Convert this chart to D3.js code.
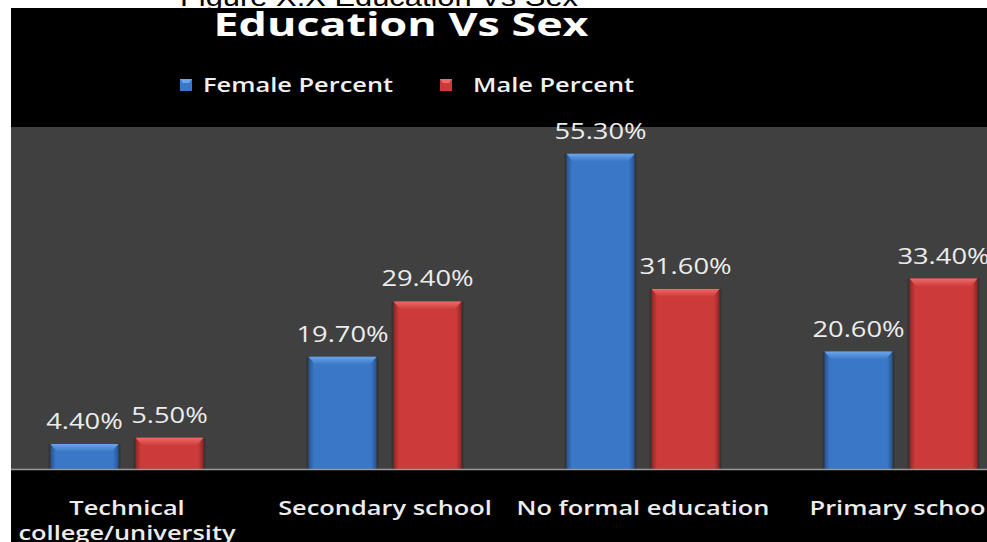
<!DOCTYPE html>
<html>
<head>
<meta charset="utf-8">
<script src="https://cdn.jsdelivr.net/npm/d3@7"></script>
<style>
  html, body { margin: 0; padding: 0; background: #fff; }
  svg { display: block; }
</style>
</head>
<body>
<svg id="chart" width="987" height="542"></svg>
<script>
// Education level by sex, percent of each sex
const categories = ["Technical college/university", "Secondary school", "No formal education", "Primary school"];
const seriesNames = ["Female Percent", "Male Percent"];
const femaleValues = [4.4, 19.7, 55.3, 20.6];
const maleValues = [5.5, 29.4, 31.6, 33.4];
const yTicks = [0, 10, 20, 30, 40, 50, 60];

const svg = d3.select("#chart");
const W = 987, H = 542;
const STRETCH = 1.27; // wide lettering of the chart text

const baseColors = { "Female Percent": "#3a77c6", "Male Percent": "#cc3b3a" };
const lightColors = { "Female Percent": "#6aa6ec", "Male Percent": "#ee6a68" };
const darkColors = { "Female Percent": "#26538f", "Male Percent": "#8e2524" };

// widen text horizontally around its anchor
function widen(sel, k) {
  sel.each(function() {
    const w = this.getComputedTextLength();
    d3.select(this).attr("textLength", w * k).attr("lengthAdjust", "spacingAndGlyphs");
  });
}

// caption behind the chart frame
svg.append("text")
  .attr("x", 379).attr("y", 5.5)
  .attr("text-anchor", "middle")
  .attr("font-family", "Liberation Sans, Arial, sans-serif")
  .attr("font-size", 25)
  .attr("fill", "#000")
  .attr("textLength", 398).attr("lengthAdjust", "spacingAndGlyphs")
  .text("Figure X.X Education Vs Sex");

// chart frame
svg.append("rect").attr("x", 11).attr("y", 8).attr("width", W - 11).attr("height", H - 8).attr("fill", "#000");

const plotTop = 127, plotBottom = 469;
svg.append("rect").attr("x", 11).attr("y", plotTop).attr("width", W - 11).attr("height", plotBottom - plotTop).attr("fill", "#404040");

// title
svg.append("text")
  .attr("x", 401).attr("y", 36)
  .attr("text-anchor", "middle")
  .attr("font-family", "Open Sans, sans-serif")
  .attr("font-weight", 700)
  .attr("font-size", 32)
  .attr("fill", "#fff")
  .attr("textLength", 375).attr("lengthAdjust", "spacingAndGlyphs")
  .text("Education Vs Sex");

// scales
const x0 = d3.scaleBand().domain(categories).range([-2, 1030]).paddingInner(105 / 258).paddingOuter(105 / 516);
const x1 = d3.scaleBand().domain(seriesNames).range([0, x0.bandwidth()]).paddingInner(0.2).paddingOuter(0);
const y = d3.scaleLinear().domain([0, d3.max(yTicks)]).range([plotBottom, plotTop]);

// gradients for bar bodies and caps
const defs = svg.append("defs");
seriesNames.forEach((s, i) => {
  const g = defs.append("linearGradient").attr("id", "grad" + i).attr("x1", 0).attr("x2", 1).attr("y1", 0).attr("y2", 0);
  g.append("stop").attr("offset", "0%").attr("stop-color", darkColors[s]);
  g.append("stop").attr("offset", "8%").attr("stop-color", baseColors[s]);
  g.append("stop").attr("offset", "92%").attr("stop-color", baseColors[s]);
  g.append("stop").attr("offset", "100%").attr("stop-color", darkColors[s]);
  const t = defs.append("linearGradient").attr("id", "cap" + i).attr("x1", 0).attr("x2", 0).attr("y1", 0).attr("y2", 1);
  t.append("stop").attr("offset", "0%").attr("stop-color", lightColors[s]);
  t.append("stop").attr("offset", "100%").attr("stop-color", baseColors[s]);
});

const rows = categories.map((c, i) => ({ category: c, values: [femaleValues[i], maleValues[i]] }));

const groups = svg.append("g").selectAll("g").data(rows).join("g")
  .attr("transform", d => `translate(${x0(d.category)},0)`);

const bars = groups.selectAll("g.bar")
  .data(d => d.values.map((v, i) => ({ series: seriesNames[i], idx: i, value: v })))
  .join("g").attr("class", "bar");

// faint shadow to the sides
bars.append("rect")
  .attr("x", d => x1(d.series) - 2)
  .attr("y", d => y(d.value))
  .attr("width", x1.bandwidth() + 4)
  .attr("height", d => plotBottom - y(d.value))
  .attr("fill", "#000").attr("opacity", 0.18);

bars.append("rect")
  .attr("x", d => x1(d.series))
  .attr("y", d => y(d.value))
  .attr("width", x1.bandwidth())
  .attr("height", d => plotBottom - y(d.value))
  .attr("fill", d => `url(#grad${d.idx})`);

// bevelled top cap
bars.append("path")
  .attr("d", d => {
    const bx = x1(d.series), bw = x1.bandwidth(), by = y(d.value), h = 8, inset = 7;
    return `M${bx},${by} L${bx + bw},${by} L${bx + bw - inset},${by + h} L${bx + inset},${by + h} Z`;
  })
  .attr("fill", d => `url(#cap${d.idx})`);

// value labels
bars.append("text")
  .attr("x", d => x1(d.series) + x1.bandwidth() / 2)
  .attr("y", d => y(d.value) - 15)
  .attr("text-anchor", "middle")
  .attr("font-family", "Open Sans, sans-serif")
  .attr("font-size", 21.5)
  .attr("fill", "#ececec")
  .text(d => d.value.toFixed(2) + "%")
  .call(widen, STRETCH);

// axis baseline
svg.append("line").attr("x1", 11).attr("x2", W).attr("y1", plotBottom + 0.5).attr("y2", plotBottom + 0.5)
  .attr("stroke", "#9a9a9a").attr("stroke-width", 1.5);

// category labels through a bottom axis
const xAxis = d3.axisBottom(x0).tickSize(0).tickPadding(0);
const axisG = svg.append("g").attr("transform", `translate(0,${plotBottom})`).call(xAxis);
axisG.select(".domain").remove();
axisG.selectAll(".tick text").remove();
const labelLines = {
  "Technical college/university": ["Technical", "college/university"]
};
axisG.selectAll(".tick").each(function(d) {
  const lines = labelLines[d] || [d];
  lines.forEach((ln, i) => {
    d3.select(this).append("text")
      .attr("x", 0).attr("y", 46 + i * 25)
      .attr("text-anchor", "middle")
      .attr("font-family", "Open Sans, sans-serif")
      .attr("font-weight", 600)
      .attr("font-size", 20)
      .attr("fill", "#ececec")
      .text(ln)
      .call(widen, STRETCH);
  });
});

// legend
const legend = svg.append("g");
const legendItems = [
  { name: "Female Percent", sx: 180, tx: 203 },
  { name: "Male Percent", sx: 440, tx: 473 }
];
legendItems.forEach(d => {
  legend.append("rect").attr("x", d.sx).attr("y", 79).attr("width", 12).attr("height", 12)
    .attr("fill", baseColors[d.name]);
  legend.append("path")
    .attr("d", `M${d.sx},79 L${d.sx + 12},79 L${d.sx + 9},83 L${d.sx + 3},83 Z`)
    .attr("fill", lightColors[d.name]);
  legend.append("text").attr("x", d.tx).attr("y", 92)
    .attr("font-family", "Open Sans, sans-serif")
    .attr("font-weight", 600)
    .attr("font-size", 20)
    .attr("fill", "#f0f0f0")
    .text(d.name)
    .call(widen, STRETCH);
});
</script>
</body>
</html>
